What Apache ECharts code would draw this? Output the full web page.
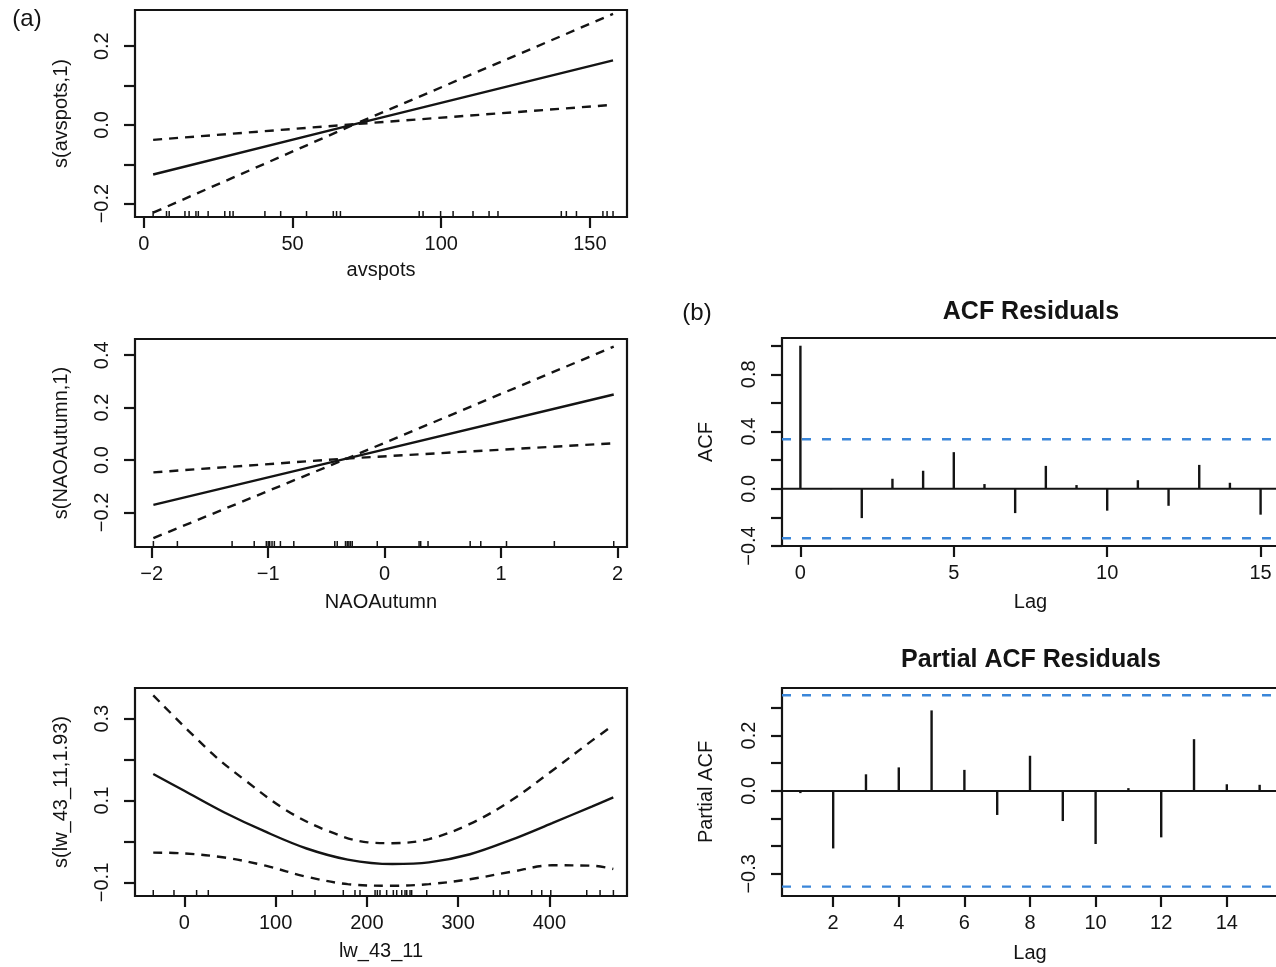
<!DOCTYPE html>
<html><head><meta charset="utf-8">
<script src="https://cdn.jsdelivr.net/npm/echarts@6/dist/echarts.min.js"></script>
<style>html,body{margin:0;padding:0;background:#fff}#c{width:1276px;height:967px}</style>
</head><body><div id="c"></div><script>
// ---------- Panel (a) 1 : avspots ----------
const avspotsX = [3.1, 71, 157.8];
const avspotsFit = [-0.126, 0.002, 0.164];
const avspotsUpper = [-0.038, 0.002, 0.282];
const avspotsLower = [-0.223, 0.002, 0.051];
const avspotsRug = [3.1, 7.6, 8.5, 13.8, 15.2, 17.5, 18.3, 21.6, 27.2, 28.9, 30.0, 40.7, 46.0, 54.7, 63.7, 64.8, 66.1, 92.6, 93.9, 99.8, 104.0, 110.7, 116.1, 119.1, 140.4, 142.1, 145.5, 154.4, 155.8, 157.8];
const avspotsXTicks = [0, 50, 100, 150];
const avspotsYTicks = [-0.2, -0.1, 0, 0.1, 0.2];
const avspotsYLabels = [-0.2, 0, 0.2];

// ---------- Panel (a) 2 : NAOAutumn ----------
const naoX = [-1.986, -0.32, 1.968];
const naoFit = [-0.171, 0.006, 0.25];
const naoUpper = [-0.047, 0.006, 0.433];
const naoLower = [-0.298, 0.006, 0.064];
const naoRug = [-1.986, -1.78, -1.31, -1.12, -1.016, -1.0, -0.987, -0.967, -0.947, -0.895, -0.78, -0.428, -0.407, -0.336, -0.321, -0.307, -0.293, -0.278, -0.063, 0.296, 0.31, 0.373, 0.735, 0.826, 1.047, 1.458, 1.968];
const naoXTicks = [-2, -1, 0, 1, 2];
const naoYTicks = [-0.2, 0, 0.2, 0.4];

// ---------- Panel (a) 3 : lw_43_11 ----------
const lwFitX = [-34, 0, 44, 89, 134, 179, 228, 268, 313, 358, 403, 447, 470];
const lwFit = [0.165, 0.124, 0.071, 0.024, -0.017, -0.044, -0.055, -0.051, -0.031, 0.004, 0.045, 0.086, 0.108];
const lwUpperX = [-34, 31, 67, 112, 156, 201, 228, 268, 313, 358, 403, 447, 470];
const lwUpper = [0.357, 0.214, 0.149, 0.076, 0.027, -0.002, -0.004, 0.006, 0.043, 0.1, 0.173, 0.247, 0.284];
const lwLowerX = [-34, 0, 44, 89, 134, 179, 228, 268, 313, 358, 403, 447, 470];
const lwLower = [-0.027, -0.029, -0.039, -0.059, -0.086, -0.104, -0.108, -0.104, -0.092, -0.074, -0.058, -0.059, -0.067];
const lwRug = [-34, -11.3, 13.5, 26.3, 118.4, 143.2, 174.2, 187, 192.5, 209, 211.5, 214.4, 221.7, 229, 232.7, 238.2, 241.8, 243.7, 247.3, 249.1, 265.6, 338.6, 345.9, 355.1, 380.6, 391.6, 401.5, 440.9, 455.5, 470.1];
const lwXTicks = [0, 100, 200, 300, 400];
const lwYTicks = [-0.1, 0, 0.1, 0.2, 0.3];
const lwYLabels = [-0.1, 0.1, 0.3];

// ---------- Panel (b) ACF / PACF ----------
const acfLags = [0, 1, 2, 3, 4, 5, 6, 7, 8, 9, 10, 11, 12, 13, 14, 15];
const acfVals = [1.0, -0.003, -0.205, 0.07, 0.126, 0.256, 0.033, -0.17, 0.16, 0.026, -0.153, 0.06, -0.119, 0.167, 0.042, -0.181];
const pacfLags = [1, 2, 3, 4, 5, 6, 7, 8, 9, 10, 11, 12, 13, 14, 15];
const pacfVals = [-0.008, -0.208, 0.06, 0.085, 0.291, 0.076, -0.087, 0.127, -0.109, -0.192, 0.01, -0.168, 0.187, 0.024, 0.022];
const acfCI = 0.346;
const acfXTicks = [0, 5, 10, 15];
const acfYTicks = [-0.4, -0.2, 0, 0.2, 0.4, 0.6, 0.8, 1.0];
const acfYLabels = [-0.4, 0, 0.4, 0.8];
const pacfXTicks = [2, 4, 6, 8, 10, 12, 14];
const pacfYTicks = [-0.3, -0.2, -0.1, 0, 0.1, 0.2, 0.3];
const pacfYLabels = [-0.3, 0, 0.2];

// axis ranges
const R = {
  av:  {x: [-3.0, 162.5], y: [-0.234, 0.292]},
  nao: {x: [-2.144, 2.082], y: [-0.332, 0.462]},
  lw:  {x: [-54, 485], y: [-0.133, 0.375]},
  acf: {x: [-0.6, 15.6], y: [-0.4, 1.054]},
  pacf:{x: [0.44, 15.56], y: [-0.38, 0.372]}
};

const FONT = "'Liberation Sans', Arial, Helvetica, sans-serif";
const INK = '#141414';
const fmt1 = v => { const a = Math.abs(v) < 1e-9 ? 0 : v; return (a < 0 ? '\u2212' : '') + Math.abs(a).toFixed(1); };
const fmt0 = v => (v < 0 ? '\u2212' : '') + Math.abs(Math.round(v));

function xAx(gi, rng, ticks, name, gap) {
  return {
    type: 'value', gridIndex: gi, min: rng[0], max: rng[1],
    axisLine: {show: false, onZero: false},
    axisTick: {show: true, length: 11, lineStyle: {color: INK, width: 2.2}, customValues: ticks},
    axisLabel: {customValues: ticks, margin: 17, fontSize: 20, color: INK, fontFamily: FONT, formatter: fmt0},
    splitLine: {show: false},
    name: name, nameLocation: 'middle', nameGap: gap,
    nameTextStyle: {fontSize: 20, color: INK, fontFamily: FONT}
  };
}
function yAx(gi, rng, ticks, labels, name, gap) {
  return {
    type: 'value', gridIndex: gi, min: rng[0], max: rng[1],
    axisLine: {show: false, onZero: false},
    axisTick: {show: true, length: 11, lineStyle: {color: INK, width: 2.2}, customValues: ticks},
    axisLabel: {customValues: labels, margin: 23, rotate: 90, fontSize: 20, color: INK, fontFamily: FONT, formatter: fmt1},
    splitLine: {show: false},
    name: name, nameLocation: 'middle', nameGap: gap, nameRotate: 90,
    nameTextStyle: {fontSize: 20, color: INK, fontFamily: FONT}
  };
}
function gridBox(left, top, width, height) {
  return {left, top, width, height, show: true, borderColor: INK, borderWidth: 2.2,
          backgroundColor: 'transparent', containLabel: false, outerBoundsMode: 'none'};
}
const pairs = (xs, ys) => xs.map((x, i) => [x, ys[i]]);
function lineS(gi, xs, ys, dashed, smooth) {
  return {type: 'line', xAxisIndex: gi, yAxisIndex: gi, data: pairs(xs, ys), showSymbol: false,
          smooth: smooth ? 0.35 : false, silent: true, animation: false,
          lineStyle: {color: INK, width: 2.4, type: dashed ? [9, 7] : 'solid'}};
}
function rugS(gi, vals, yMin) {
  return {type: 'custom', xAxisIndex: gi, yAxisIndex: gi, silent: true, animation: false,
    data: vals.map(v => [v, yMin]),
    renderItem: (p, api) => {
      const pt = api.coord([api.value(0), api.value(1)]);
      return {type: 'line', shape: {x1: pt[0], y1: pt[1], x2: pt[0], y2: pt[1] - 6},
              style: {stroke: INK, lineWidth: 1.5}};
    }};
}
function spikeS(gi, lags, vals) {
  return {type: 'custom', xAxisIndex: gi, yAxisIndex: gi, silent: true, animation: false,
    data: pairs(lags, vals),
    renderItem: (p, api) => {
      const a = api.coord([api.value(0), 0]);
      const b = api.coord([api.value(0), api.value(1)]);
      return {type: 'line', shape: {x1: a[0], y1: a[1], x2: b[0], y2: b[1]},
              style: {stroke: INK, lineWidth: 2.4}};
    }};
}
function hLine(gi, rng, y, color, dashed, w) {
  return {type: 'line', xAxisIndex: gi, yAxisIndex: gi, data: [[rng[0], y], [rng[1], y]],
          showSymbol: false, silent: true, animation: false,
          lineStyle: {color: color, width: w, type: dashed ? [9, 11] : 'solid'}};
}

const chart = echarts.init(document.getElementById('c'), null, {renderer: 'canvas'});
chart.setOption({
  animation: false,
  backgroundColor: '#ffffff',
  grid: [
    gridBox(135, 10, 492, 207),
    gridBox(135, 339, 492, 208),
    gridBox(135, 688, 492, 208),
    gridBox(782, 338, 497, 208),
    gridBox(782, 688, 496, 208)
  ],
  xAxis: [
    xAx(0, R.av.x, avspotsXTicks, 'avspots', 43),
    xAx(1, R.nao.x, naoXTicks, 'NAOAutumn', 45),
    xAx(2, R.lw.x, lwXTicks, 'lw_43_11', 45),
    xAx(3, R.acf.x, acfXTicks, 'Lag', 46),
    xAx(4, R.pacf.x, pacfXTicks, 'Lag', 47)
  ],
  yAxis: [
    yAx(0, R.av.y, avspotsYTicks, avspotsYLabels, 's(avspots,1)', 64),
    yAx(1, R.nao.y, naoYTicks, naoYTicks, 's(NAOAutumn,1)', 64),
    yAx(2, R.lw.y, lwYTicks, lwYLabels, 's(lw_43_11,1.93)', 64),
    yAx(3, R.acf.y, acfYTicks, acfYLabels, 'ACF', 66),
    yAx(4, R.pacf.y, pacfYTicks, pacfYLabels, 'Partial ACF', 66)
  ],
  series: [
    lineS(0, avspotsX, avspotsFit, false),
    lineS(0, avspotsX, avspotsUpper, true),
    lineS(0, avspotsX, avspotsLower, true),
    rugS(0, avspotsRug, R.av.y[0]),

    lineS(1, naoX, naoFit, false),
    lineS(1, naoX, naoUpper, true),
    lineS(1, naoX, naoLower, true),
    rugS(1, naoRug, R.nao.y[0]),

    lineS(2, lwFitX, lwFit, false, true),
    lineS(2, lwUpperX, lwUpper, true, true),
    lineS(2, lwLowerX, lwLower, true, true),
    rugS(2, lwRug, R.lw.y[0]),

    hLine(3, R.acf.x, 0, INK, false, 2),
    hLine(3, R.acf.x, acfCI, '#3a86d9', true, 2.4),
    hLine(3, R.acf.x, -acfCI, '#3a86d9', true, 2.4),
    spikeS(3, acfLags, acfVals),

    hLine(4, R.pacf.x, 0, INK, false, 2),
    hLine(4, R.pacf.x, acfCI, '#3a86d9', true, 2.4),
    hLine(4, R.pacf.x, -acfCI, '#3a86d9', true, 2.4),
    spikeS(4, pacfLags, pacfVals)
  ],
  graphic: [
    {type: 'text', x: 27, y: 19, style: {text: '(a)', font: '24px ' + FONT, fill: INK, textAlign: 'center', textVerticalAlign: 'middle'}},
    {type: 'text', x: 697, y: 313, style: {text: '(b)', font: '24px ' + FONT, fill: INK, textAlign: 'center', textVerticalAlign: 'middle'}},
    {type: 'text', x: 1031, y: 312, style: {text: 'ACF Residuals', font: 'bold 25px ' + FONT, fill: INK, textAlign: 'center', textVerticalAlign: 'middle'}},
    {type: 'text', x: 1031, y: 660, style: {text: 'Partial ACF Residuals', font: 'bold 25px ' + FONT, fill: INK, textAlign: 'center', textVerticalAlign: 'middle'}}
  ]
});
</script></body></html>
